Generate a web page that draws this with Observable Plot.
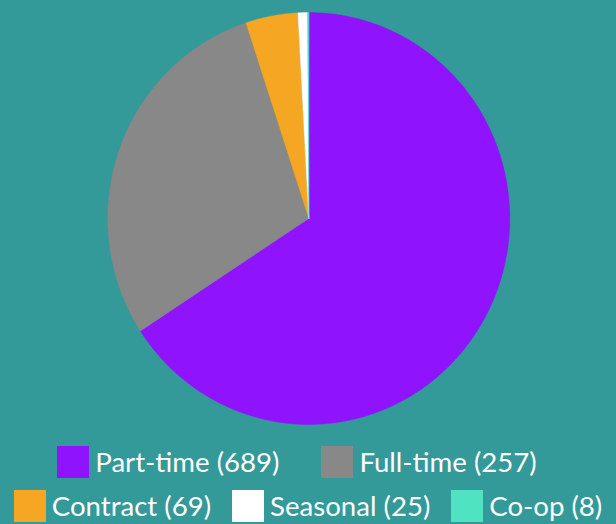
<!DOCTYPE html>
<html>
<head>
<meta charset="utf-8">
<script src="https://cdn.jsdelivr.net/npm/d3@7"></script>
<script src="https://cdn.jsdelivr.net/npm/@observablehq/plot@0.6"></script>
<style>
  html, body { margin: 0; padding: 0; background: #339999; }
  body { width: 616px; height: 524px; overflow: hidden; font-family: Lato, "Noto Sans", sans-serif; }
  #legend { color: #ffffff; font-size: 27.6px; line-height: 32px; }
  .row { display: flex; justify-content: center; white-space: nowrap; }
  .row1 { gap: 42px; padding-right: 22px; margin-top: 10px; }
  .row2 { gap: 21px; margin-top: 12px; }
  .item { display: flex; align-items: center; }
  .sw { width: 32px; height: 32px; margin-right: 6px; flex: none; }
</style>
</head>
<body>
<div id="chart"></div>
<div id="legend"></div>
<script>
// Categories, legend counts, slice values (as drawn), colours
const categories = ["Part-time", "Full-time", "Contract", "Seasonal", "Co-op"];
const legendCounts = [689, 257, 69, 25, 8];
const sliceValues = [689, 305, 44, 8, 1];
const colors = ["#9013fe", "#888888", "#f5a623", "#ffffff", "#50e3c2"];

const arcs = d3.pie().sort(null).value(d => d)(sliceValues);
const step = Math.PI / 720;
const points = [];
arcs.forEach((a, i) => {
  const cat = categories[i];
  points.push({cat, x: 0, y: 0});
  const n = Math.max(2, Math.ceil((a.endAngle - a.startAngle) / step));
  for (let k = 0; k <= n; k++) {
    const t = a.startAngle + (a.endAngle - a.startAngle) * k / n;
    points.push({cat, x: Math.sin(t), y: Math.cos(t)});
  }
});

const chart = Plot.plot({
  width: 616,
  height: 436,
  margin: 0,
  style: {background: "transparent", overflow: "visible"},
  x: {domain: [-1, 1], range: [107.3, 509.3], axis: null},
  y: {domain: [-1, 1], range: [424, 12], axis: null},
  color: {domain: categories, range: colors, type: "ordinal"},
  marks: [
    Plot.line(points, {x: "x", y: "y", z: "cat", fill: "cat", stroke: "cat", strokeWidth: 0.4, curve: "linear-closed"})
  ]
});
document.getElementById("chart").appendChild(chart);

const legend = document.getElementById("legend");
const rows = [[0, 1], [2, 3, 4]];
rows.forEach((r, ri) => {
  const row = document.createElement("div");
  row.className = "row row" + (ri + 1);
  r.forEach(i => {
    const item = document.createElement("div");
    item.className = "item";
    const sw = document.createElement("span");
    sw.className = "sw";
    sw.style.background = colors[i];
    const label = document.createElement("span");
    label.textContent = `${categories[i]} (${legendCounts[i]})`;
    item.appendChild(sw);
    item.appendChild(label);
    row.appendChild(item);
  });
  legend.appendChild(row);
});
</script>
</body>
</html>
